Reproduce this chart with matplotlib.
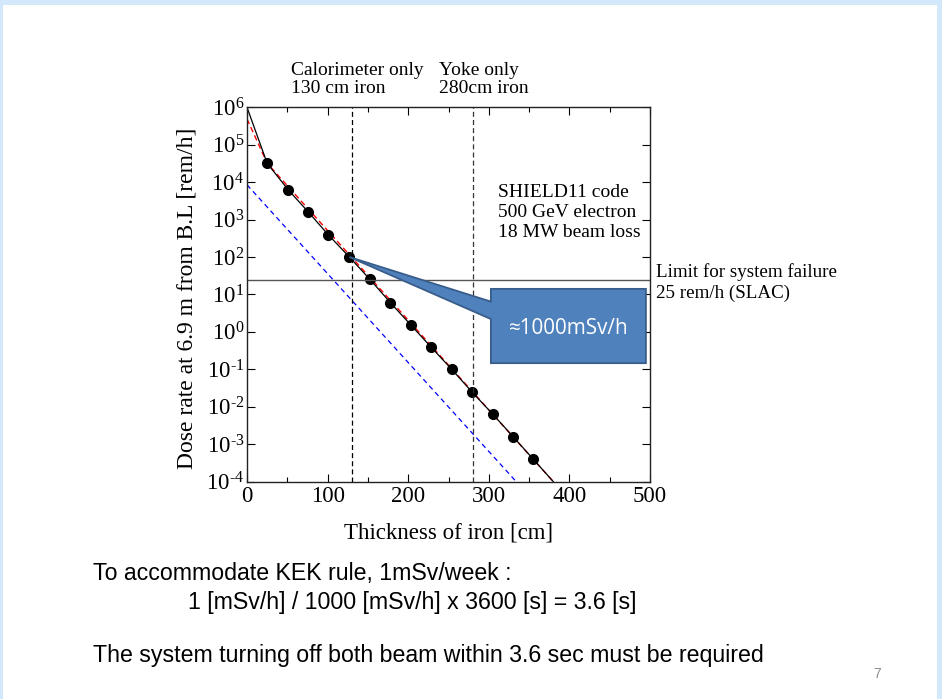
import numpy as np
import matplotlib
matplotlib.use('Agg')
import matplotlib.pyplot as plt
from matplotlib.patches import Polygon, Rectangle
from matplotlib.ticker import LogLocator, MultipleLocator, NullLocator, FuncFormatter

plt.rcParams['font.family'] = ['Liberation Serif', 'DejaVu Serif']
plt.rcParams['mathtext.fontset'] = 'custom'
plt.rcParams['mathtext.rm'] = 'Liberation Serif'
plt.rcParams['mathtext.it'] = 'Liberation Serif:italic'

# SHIELD11 points
thickness = [25, 51, 76, 101, 127, 152, 178, 203, 228, 254, 279, 305, 330, 355]
dose = [3.2e4, 6.3e3, 1.6e3, 3.9e2, 1.0e2, 2.6e1, 6.0, 1.55, 4.0e-1, 1.0e-1, 2.5e-2, 6.3e-3, 1.6e-3, 4.0e-4]

# solid black curve: starts at top-left corner, runs through the points, off the bottom
curve_x = [0] + thickness + [380]
curve_y = [1.0e6] + dose + [1.0e-4]

# red dashed fit and blue dashed line
red_x = [0, 25, 380]
red_y = [4.9e5, 3.2e4, 1.0e-4]
blue_x = [0, 334]
blue_y = [8.5e3, 1.0e-4]

limit = 25          # rem/h, SLAC system failure limit
calo_cut = 130      # cm
yoke_cut = 280      # cm

W, H = 942, 699


def fx(px):
    return px / W


def fy(py):
    return 1 - py / H


def decade_label(v, pos):
    e = int(round(np.log10(v)))
    if e < 0:
        return r'$\mathdefault{10^{\text{-}%d}}$' % (-e)
    return r'$\mathdefault{10^{%d}}$' % e


fig = plt.figure(figsize=(W / 100, H / 100), dpi=100)
fig.patch.set_facecolor('#d4e8fc')
fig.patches.append(Rectangle((fx(3), 0), fx(937) - fx(3), fy(5), transform=fig.transFigure,
                             facecolor='white', edgecolor='none', zorder=-10))

ax = fig.add_axes([fx(247), fy(481.6), fx(650) - fx(247), (481.6 - 107.3) / H])
ax.set_facecolor('white')

ax.plot(blue_x, blue_y, color='blue', lw=0.9, dashes=(4, 3))
ax.plot(red_x, red_y, color='red', lw=1.0, dashes=(4, 2.5))
ax.plot(curve_x, curve_y, color='black', lw=0.9)
ax.plot(thickness, dose, 'o', color='black', ms=7)

ax.axvline(calo_cut, color='black', lw=0.9, dashes=(4, 2.5))
ax.axvline(yoke_cut, color='#333333', lw=0.9, dashes=(4, 2.5))
ax.axhline(limit, color='#555555', lw=1.0)

ax.set_yscale('log')
ax.set_xlim(0, 500)
ax.set_ylim(1e-4, 1e6)
ax.xaxis.set_major_locator(MultipleLocator(100))
ax.xaxis.set_minor_locator(MultipleLocator(50))
ax.yaxis.set_major_locator(LogLocator(base=10, numticks=20))
ax.yaxis.set_minor_locator(NullLocator())
ax.yaxis.set_major_formatter(FuncFormatter(decade_label))
ax.tick_params(which='both', direction='in', top=True, right=True, labelsize=16.5, width=0.8)
ax.tick_params(which='major', length=6)
ax.tick_params(which='minor', length=3.5)
ax.tick_params(axis='y', pad=2)
ax.tick_params(axis='x', pad=3)
for s in ax.spines.values():
    s.set_color('#222222')
    s.set_linewidth(1.0)

ax.set_xlabel('Thickness of iron [cm]', fontsize=16.5, labelpad=11)
ax.set_ylabel('Dose rate at 6.9 m from B.L [rem/h]', fontsize=17)
ax.yaxis.set_label_coords((197 - 247) / 403, 0.489)

# callout pointing at the 130 cm point
tip = (thickness[4], dose[4])
callout = Polygon([(302.6, 14.1), (494.9, 14.1), (494.9, 0.146), (302.6, 0.146),
                   (302.6, 2.2), tip, (302.6, 6.45)],
                  closed=True, facecolor='#4f81bd', edgecolor='#385d8a', lw=1.3, zorder=5,
                  clip_on=False)
ax.add_patch(callout)
ax.text(398.8, 1.2, '\u22481000mSv/h', color='white', fontsize=14.9, family='Open Sans',
        ha='center', va='center', zorder=6)

# annotations around the plot (y = baseline of the last line)
fig.text(fx(291), fy(93.3), 'Calorimeter only\n130 cm iron', fontsize=14, va='baseline',
         linespacing=1.08)
fig.text(fx(439), fy(93.3), 'Yoke only\n280cm iron', fontsize=14, va='baseline',
         linespacing=1.08)
fig.text(fx(498), fy(236.7), 'SHIELD11 code\n500 GeV electron\n18 MW beam loss',
         fontsize=14, va='baseline', linespacing=1.22)
fig.text(fx(655.5), fy(298.3), 'Limit for system failure\n25 rem/h (SLAC)', fontsize=13.7,
         va='baseline', linespacing=1.33)

sans = ['Liberation Sans', 'DejaVu Sans']
fig.text(fx(93), fy(580), 'To accommodate KEK rule, 1mSv/week :', fontsize=16.7,
         family=sans, va='baseline')
fig.text(fx(188), fy(609), '1 [mSv/h] / 1000 [mSv/h] x 3600 [s] = 3.6 [s]', fontsize=16.7,
         family=sans, va='baseline')
fig.text(fx(93), fy(662), 'The system turning off both beam within 3.6 sec must be required',
         fontsize=16.7, family=sans, va='baseline')
fig.text(fx(873), fy(678), '7', fontsize=10, color='#8c8c8c', family=sans, va='baseline')

fig.savefig('out.png', dpi=100, facecolor=fig.get_facecolor())
